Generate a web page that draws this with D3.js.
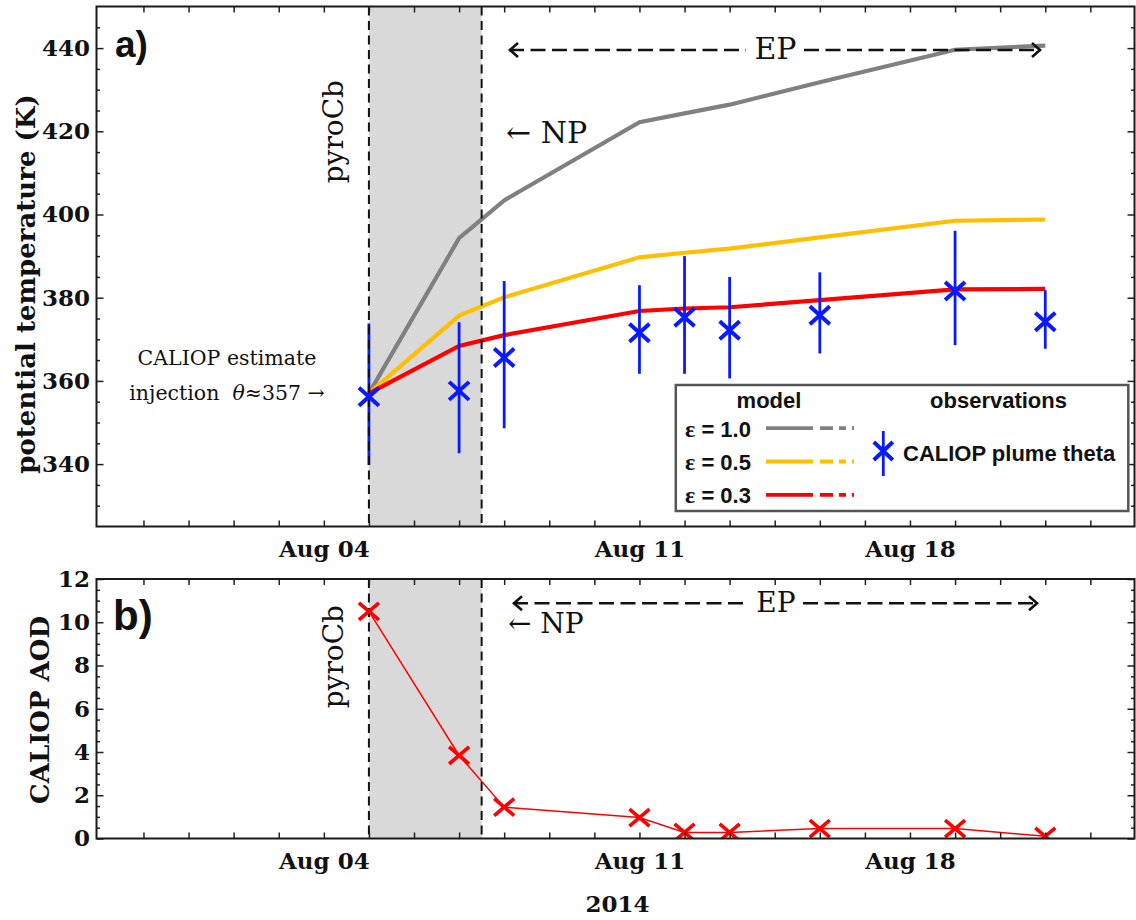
<!DOCTYPE html>
<html>
<head>
<meta charset="utf-8">
<script src="https://cdn.jsdelivr.net/npm/d3@7"></script>
<style>
  body { margin: 0; background: #fff; }
  svg { display: block; }
</style>
</head>
<body>
<script>
// ---- data -----------------------------------------------------------------
// CALIOP overpass dates (plume observations and model output share them)
const obsDates   = ["2014-08-05", "2014-08-07", "2014-08-08", "2014-08-11", "2014-08-12",
                    "2014-08-13", "2014-08-15", "2014-08-18", "2014-08-20"];
// observed plume potential temperature (K) with error-bar limits
const thetaObs   = [356.2, 357.6, 365.6, 371.6, 375.3, 372.2, 375.8, 381.6, 374.2];
const thetaLow   = [339.8, 342.6, 348.6, 361.7, 361.7, 360.6, 366.6, 368.6, 367.7];
const thetaHigh  = [373.8, 374.1, 384.0, 383.0, 390.0, 385.0, 386.1, 396.1, 381.8];
// modelled plume potential temperature (K) for three heating efficiencies
const thetaEps10 = [357, 394.3, 403.4, 422.2, 424.3, 426.4, 431.8, 439.6, 440.6];
const thetaEps05 = [357, 375.7, 380.1, 389.7, 390.8, 391.8, 394.5, 398.5, 398.8];
const thetaEps03 = [357, 368.4, 371.0, 376.8, 377.4, 377.7, 379.4, 382.0, 382.1];
// CALIOP aerosol optical depth of the plume
const aodObs     = [10.5, 3.84, 1.45, 0.97, 0.28, 0.28, 0.46, 0.46, 0.1];

const seriesNames  = ["ε = 1.0", "ε = 0.5", "ε = 0.3"];
const seriesColors = ["#808080", "#ffbf00", "#ff0000"];

// labelled date ticks
const dateTickDates  = ["2014-08-04", "2014-08-11", "2014-08-17"];
const dateTickLabels = ["Aug 04", "Aug 11", "Aug 18"];
const thetaTicks = [340, 360, 380, 400, 420, 440];
const aodTicks   = [0, 2, 4, 6, 8, 10, 12];

// pyroCb injection period
const pyroStart = "2014-08-05";
const pyroEnd   = "2014-08-07T12:00";

// ---- helpers --------------------------------------------------------------
const P = s => new Date(s.length === 10 ? s + "T00:00:00Z" : s + ":00Z");
const SERIF = "'DejaVu Serif', serif";
const SANS  = "'Liberation Sans', Arial, sans-serif";

const W = 1136, H = 920;
const X0 = 96.5, X1 = 1134.5;

const svg = d3.select("body").append("svg")
  .attr("width", W).attr("height", H)
  .attr("viewBox", `0 0 ${W} ${H}`);

const x = d3.scaleUtc()
  .domain([new Date(Date.UTC(2014, 6, 29, 23, 0)), new Date(Date.UTC(2014, 7, 21, 23, 30))])
  .range([X0, X1]);

const dayTicks = d3.utcDay.range(new Date(Date.UTC(2014, 6, 29)), new Date(Date.UTC(2014, 7, 23)))
  .filter(d => x(d) > X0 + 4 && x(d) < X1 - 4);

const labelAt = new Map(dateTickDates.map((d, i) => [+P(d), dateTickLabels[i]]));

const panelA = { top: 6.5, bottom: 526.5 };
const panelB = { top: 579, bottom: 838.5 };

const yA = d3.scaleLinear().domain([325, 450]).range([panelA.bottom, panelA.top]);
const yB = d3.scaleLinear().domain([0, 12]).range([panelB.bottom, panelB.top]);

const obs = obsDates.map((d, i) => ({
  date: P(d), theta: thetaObs[i], lo: thetaLow[i], hi: thetaHigh[i], aod: aodObs[i]
}));
const models = [thetaEps10, thetaEps05, thetaEps03].map((vals, k) => ({
  name: seriesNames[k], color: seriesColors[k],
  pts: vals.map((v, i) => ({ date: P(obsDates[i]), v }))
}));

function xMark(g, cx, cy, hw, hh, color, sw) {
  g.append("path")
    .attr("d", `M${cx - hw},${cy - hh}L${cx + hw},${cy + hh}M${cx - hw},${cy + hh}L${cx + hw},${cy - hh}`)
    .attr("stroke", color).attr("stroke-width", sw).attr("fill", "none");
}

function panelBase(id, p, y) {
  const g = svg.append("g");
  svg.append("clipPath").attr("id", id)
    .append("rect").attr("x", X0).attr("y", p.top).attr("width", X1 - X0).attr("height", p.bottom - p.top);
  const inner = g.append("g").attr("clip-path", `url(#${id})`);
  // pyroCb window
  inner.append("rect")
    .attr("x", x(P(pyroStart))).attr("width", x(P(pyroEnd)) - x(P(pyroStart)))
    .attr("y", p.top).attr("height", p.bottom - p.top)
    .attr("fill", "#d9d9d9");
  return { g, inner };
}

function dashedMarkers(inner, p) {
  [pyroStart, pyroEnd].forEach(d => {
    inner.append("line")
      .attr("x1", x(P(d))).attr("x2", x(P(d)))
      .attr("y1", p.top).attr("y2", p.bottom)
      .attr("stroke", "#111").attr("stroke-width", 2)
      .attr("stroke-dasharray", "9,5.5");
  });
}

function axes(g, p, y, majors, minors) {
  const tickStyle = sel => {
    sel.select(".domain").remove();
    sel.selectAll(".tick line").attr("stroke", "#222").attr("stroke-width", 1.5);
  };
  // bottom: daily ticks with date labels
  const bottom = g.append("g").attr("transform", `translate(0,${p.bottom})`)
    .call(d3.axisBottom(x).tickValues(dayTicks).tickSize(-6).tickPadding(14.5)
      .tickFormat(d => labelAt.get(+d) || ""));
  bottom.call(tickStyle);
  bottom.selectAll("text").attr("font-family", SERIF).attr("font-weight", "bold")
    .attr("font-size", 23).attr("fill", "#111");
  // top mirror
  g.append("g").attr("transform", `translate(0,${p.top})`)
    .call(d3.axisTop(x).tickValues(dayTicks).tickSize(-6).tickFormat(""))
    .call(tickStyle);
  // left
  const left = g.append("g").attr("transform", `translate(${X0},0)`)
    .call(d3.axisLeft(y).tickValues(majors).tickSize(-7).tickPadding(6.5));
  left.call(tickStyle);
  left.selectAll("text").attr("font-family", SERIF).attr("font-weight", "bold")
    .attr("font-size", 23).attr("fill", "#111");
  g.append("g").attr("transform", `translate(${X0},0)`)
    .call(d3.axisLeft(y).tickValues(minors).tickSize(-3.5).tickFormat(""))
    .call(tickStyle);
  // right mirror
  g.append("g").attr("transform", `translate(${X1},0)`)
    .call(d3.axisRight(y).tickValues(majors).tickSize(-7).tickFormat(""))
    .call(tickStyle);
  g.append("g").attr("transform", `translate(${X1},0)`)
    .call(d3.axisRight(y).tickValues(minors).tickSize(-3.5).tickFormat(""))
    .call(tickStyle);
  // frame
  g.append("rect").attr("x", X0).attr("y", p.top)
    .attr("width", X1 - X0).attr("height", p.bottom - p.top)
    .attr("fill", "none").attr("stroke", "#1a1a1a").attr("stroke-width", 2);
}

function epArrow(g, yLine, xl, xr, gapL, gapR, textX, baseline, fs) {
  [[xl, gapL], [gapR, xr]].forEach(([a, b]) => {
    g.append("line").attr("x1", a).attr("x2", b).attr("y1", yLine).attr("y2", yLine)
      .attr("stroke", "#111").attr("stroke-width", 2.6).attr("stroke-dasharray", "15,6.5");
  });
  g.append("path").attr("d", `M${xl + 9},${yLine - 7}L${xl + 1},${yLine}L${xl + 9},${yLine + 7}`)
    .attr("fill", "none").attr("stroke", "#111").attr("stroke-width", 2.6);
  g.append("path").attr("d", `M${xr - 9},${yLine - 7}L${xr - 1},${yLine}L${xr - 9},${yLine + 7}`)
    .attr("fill", "none").attr("stroke", "#111").attr("stroke-width", 2.6);
  g.append("text").attr("x", textX).attr("y", baseline).attr("text-anchor", "middle")
    .attr("font-family", SERIF).attr("font-size", fs).attr("fill", "#111").text("EP");
}

// ---- panel a: potential temperature ------------------------------------
{
  const { g, inner } = panelBase("clipA", panelA, yA);

  const line = d3.line().x(d => x(d.date)).y(d => yA(d.v));
  models.forEach(m => {
    inner.append("path").datum(m.pts).attr("d", line)
      .attr("fill", "none").attr("stroke", m.color).attr("stroke-width", 4.2)
      .attr("stroke-linejoin", "miter");
  });

  obs.forEach(o => {
    inner.append("line").attr("x1", x(o.date)).attr("x2", x(o.date))
      .attr("y1", yA(o.lo)).attr("y2", yA(o.hi))
      .attr("stroke", "#0a1aff").attr("stroke-width", 2.8);
  });
  dashedMarkers(inner, panelA);
  obs.forEach(o => xMark(inner, x(o.date), yA(o.theta), 10, 9, "#0a1aff", 4));

  axes(g, panelA, yA, thetaTicks, d3.range(330, 450, 5).filter(v => v % 20 !== 0));

  g.append("text").attr("x", 115).attr("y", 57)
    .attr("font-family", SANS).attr("font-weight", "bold").attr("font-size", 37)
    .attr("fill", "#111").text("a)");

  g.append("text").attr("transform", "translate(343,80) rotate(-90)")
    .attr("text-anchor", "end").attr("font-family", SERIF).attr("font-size", 28)
    .attr("fill", "#111").text("pyroCb");

  g.append("text").attr("x", 227).attr("y", 365).attr("text-anchor", "middle")
    .attr("font-family", SERIF).attr("font-size", 20.5).attr("fill", "#111")
    .text("CALIOP estimate");
  const inj = g.append("text").attr("x", 227).attr("y", 400).attr("text-anchor", "middle")
    .attr("font-family", SERIF).attr("font-size", 20.5).attr("fill", "#111")
    .attr("xml:space", "preserve");
  inj.append("tspan").text("injection  ");
  inj.append("tspan").attr("font-style", "italic").text("θ");
  inj.append("tspan").text("≈357 →");

  g.append("text").attr("x", 506).attr("y", 142.7)
    .attr("font-family", SERIF).attr("font-size", 30).attr("fill", "#111").text("← NP");

  epArrow(g, 50, 509, 1041, 746, 804, 775.5, 59.3, 30);

  g.append("text").attr("transform", "translate(35,284) rotate(-90)")
    .attr("text-anchor", "middle").attr("font-family", SERIF).attr("font-weight", "bold")
    .attr("font-size", 26).attr("fill", "#111").text("potential temperature (K)");

  // legend
  const L = g.append("g");
  L.append("rect").attr("x", 675.8).attr("y", 385).attr("width", 452.5).attr("height", 126)
    .attr("fill", "#fff").attr("stroke", "#555").attr("stroke-width", 2.5);
  L.append("text").attr("x", 769).attr("y", 408).attr("text-anchor", "middle")
    .attr("font-family", SANS).attr("font-weight", "bold").attr("font-size", 22)
    .attr("fill", "#111").text("model");
  L.append("text").attr("x", 998.5).attr("y", 408).attr("text-anchor", "middle")
    .attr("font-family", SANS).attr("font-weight", "bold").attr("font-size", 22)
    .attr("fill", "#111").text("observations");
  const rowBase = [436.7, 470, 503.3];
  models.forEach((m, k) => {
    const t = L.append("text").attr("x", 685).attr("y", rowBase[k])
      .attr("font-family", SANS).attr("font-weight", "bold").attr("font-size", 22).attr("fill", "#111");
    const parts = m.name.split(" ");
    t.append("tspan").attr("font-family", "'Liberation Serif', serif").attr("font-size", 24).text(parts[0]);
    t.append("tspan").text(" " + parts.slice(1).join(" "));
    const ly = rowBase[k] - 8.5;
    L.append("line").attr("x1", 766).attr("x2", 813).attr("y1", ly).attr("y2", ly)
      .attr("stroke", m.color).attr("stroke-width", 3.8);
    L.append("line").attr("x1", 813).attr("x2", 854).attr("y1", ly).attr("y2", ly)
      .attr("stroke", m.color).attr("stroke-width", 3.8)
      .attr("stroke-dasharray", "0,7,13,6,7,6,2,20");
  });
  L.append("line").attr("x1", 883.3).attr("x2", 883.3).attr("y1", 431).attr("y2", 476)
    .attr("stroke", "#0a1aff").attr("stroke-width", 2.8);
  xMark(L, 883.3, 451, 9.5, 9, "#0a1aff", 4);
  L.append("text").attr("x", 903).attr("y", 461)
    .attr("font-family", SANS).attr("font-weight", "bold").attr("font-size", 22)
    .attr("fill", "#111").text("CALIOP plume theta");
}

// ---- panel b: aerosol optical depth -------------------------------------
{
  const { g, inner } = panelBase("clipB", panelB, yB);
  dashedMarkers(inner, panelB);

  inner.append("path").datum(obs)
    .attr("d", d3.line().x(d => x(d.date)).y(d => yB(d.aod)))
    .attr("fill", "none").attr("stroke", "#ff0000").attr("stroke-width", 1.5);
  obs.forEach(o => xMark(inner, x(o.date), yB(o.aod), 10, 8.5, "#ff0000", 3.6));

  axes(g, panelB, yB, aodTicks, d3.range(0.5, 12, 0.5).filter(v => v % 2 !== 0));

  g.append("text").attr("x", 113).attr("y", 630)
    .attr("font-family", SANS).attr("font-weight", "bold").attr("font-size", 42)
    .attr("fill", "#111").text("b)");

  g.append("text").attr("transform", "translate(343,605) rotate(-90)")
    .attr("text-anchor", "end").attr("font-family", SERIF).attr("font-size", 28)
    .attr("fill", "#111").text("pyroCb");

  g.append("text").attr("x", 508).attr("y", 633)
    .attr("font-family", SERIF).attr("font-size", 28).attr("fill", "#111").text("← NP");

  epArrow(g, 603.3, 513, 1038, 748, 803, 776, 611.7, 28);

  g.append("text").attr("transform", "translate(49,710) rotate(-90)")
    .attr("text-anchor", "middle").attr("font-family", SERIF).attr("font-weight", "bold")
    .attr("font-size", 26).attr("fill", "#111").text("CALIOP AOD");

  g.append("text").attr("x", (X0 + X1) / 2 + 2).attr("y", 911.5).attr("text-anchor", "middle")
    .attr("font-family", SERIF).attr("font-weight", "bold").attr("font-size", 23)
    .attr("fill", "#111").text("2014");
}
</script>
</body>
</html>
